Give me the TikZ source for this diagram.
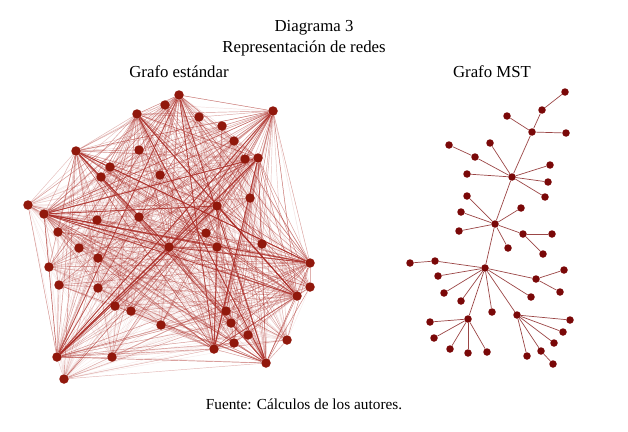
\documentclass[tikz,border=0pt]{standalone}
\usepackage{fontspec}
\setmainfont{Liberation Serif}
\usetikzlibrary{backgrounds}
\definecolor{dotred}{RGB}{145,24,12}
\definecolor{linkred}{RGB}{170,42,36}
\definecolor{treered}{RGB}{122,8,8}

\begin{document}
\begin{tikzpicture}[x=1pt, y=-1pt,
		node_style/.style={circle,fill=dotred,inner sep=0pt,minimum size=9.5pt},
		tree_style/.style={circle,fill=treered,inner sep=0pt,minimum size=7.5pt},
		edge_style/.style={draw=linkred,line width=0.45pt},
		tree_edge/.style={draw=treered!75!white,line width=0.7pt},
		text_style/.style={font=\fontsize{16.8}{19}\selectfont,inner sep=0pt},
		note_style/.style={font=\fontsize{15.3}{18}\selectfont,inner sep=0pt}]

		\useasboundingbox (0,0) rectangle (628,431);

		% titles
		\node[text_style] (title) at (314,28) {Diagrama 3};
		\node[text_style] (subtitle) at (304,48) {Representación de redes};
		\node[text_style] (leftname) at (179,72) {Grafo estándar};
		\node[text_style] (rightname) at (492,72) {Grafo MST};
		\node[note_style] (source) at (304,404) {Fuente: Cálculos de los autores.};

		% grafo estandar
		\node[node_style] (n1) at (179,95) {};
		\node[node_style] (n2) at (165,105) {};
		\node[node_style] (n3) at (137,114) {};
		\node[node_style] (n4) at (273,111) {};
		\node[node_style] (n5) at (199,117) {};
		\node[node_style] (n6) at (222,126) {};
		\node[node_style] (n7) at (234,141) {};
		\node[node_style] (n8) at (76,151) {};
		\node[node_style] (n9) at (139,150) {};
		\node[node_style] (n10) at (245,159) {};
		\node[node_style] (n11) at (258,158) {};
		\node[node_style] (n12) at (110,167) {};
		\node[node_style] (n13) at (101,177) {};
		\node[node_style] (n14) at (160,175) {};
		\node[node_style] (n15) at (250,198) {};
		\node[node_style] (n16) at (217,206) {};
		\node[node_style] (n17) at (28,205) {};
		\node[node_style] (n18) at (44,214) {};
		\node[node_style] (n19) at (97,220) {};
		\node[node_style] (n20) at (139,217) {};
		\node[node_style] (n21) at (58,232) {};
		\node[node_style] (n22) at (206,233) {};
		\node[node_style] (n23) at (169,247) {};
		\node[node_style] (n24) at (217,247) {};
		\node[node_style] (n25) at (262,244) {};
		\node[node_style] (n26) at (79,248) {};
		\node[node_style] (n27) at (98,258) {};
		\node[node_style] (n28) at (49,267) {};
		\node[node_style] (n29) at (310,263) {};
		\node[node_style] (n30) at (59,285) {};
		\node[node_style] (n31) at (98,288) {};
		\node[node_style] (n32) at (310,287) {};
		\node[node_style] (n33) at (297,296) {};
		\node[node_style] (n34) at (115,306) {};
		\node[node_style] (n35) at (131,311) {};
		\node[node_style] (n36) at (226,311) {};
		\node[node_style] (n37) at (161,325) {};
		\node[node_style] (n38) at (231,323) {};
		\node[node_style] (n39) at (248,335) {};
		\node[node_style] (n40) at (287,340) {};
		\node[node_style] (n41) at (234,343) {};
		\node[node_style] (n42) at (214,349) {};
		\node[node_style] (n43) at (57,357) {};
		\node[node_style] (n44) at (112,357) {};
		\node[node_style] (n45) at (266,363) {};
		\node[node_style] (n46) at (64,379) {};

		\begin{pgfonlayer}{background}
		\pgfmathsetseed{11}
		% all links, faint
		\foreach \i in {1,...,45}{
			\pgfmathtruncatemacro\k{\i+1}
			\foreach \j in {\k,...,46}
				\draw[edge_style,opacity=0.09]  (n\i) -- (n\j);
		}
		% links of the central nodes
		\foreach \h in {1,3,4,8,11,16,18,23,29,33,42,43,45}{
			\foreach \j in {1,...,46}{
				\ifnum\h=\j\else
					\pgfmathsetmacro\op{0.06+0.48*rnd}
					\draw[edge_style,opacity=\op]  (n\h) -- (n\j);
				\fi
			}
		}
		% strongest links
		\foreach \a/\b in {18/23,18/16,18/24,18/29,43/16,43/1,43/23,24/42,8/29,3/33,1/42,
				4/43,11/18,16/33,23/29,8/23,3/45,4/23,1/45,18/33,11/42,43/11}
			\draw[edge_style,line width=0.9pt,opacity=0.75]  (n\a) -- (n\b);
		\end{pgfonlayer}

		% grafo MST
		\node[tree_style] (ta) at (565,92) {};
		\node[tree_style] (tb) at (542,110) {};
		\node[tree_style] (tc) at (532,132) {};
		\node[tree_style] (td) at (507,116) {};
		\node[tree_style] (te) at (566,133) {};
		\node[tree_style] (tf) at (449,145) {};
		\node[tree_style] (tg) at (490,143) {};
		\node[tree_style] (th) at (475,157) {};
		\node[tree_style] (ti) at (512,177) {};
		\node[tree_style] (tj) at (550,165) {};
		\node[tree_style] (tk) at (467,174) {};
		\node[tree_style] (tl) at (548,182) {};
		\node[tree_style] (tm) at (545,197) {};
		\node[tree_style] (tn) at (467,196) {};
		\node[tree_style] (to) at (521,208) {};
		\node[tree_style] (tp) at (461,212) {};
		\node[tree_style] (tq) at (495,224) {};
		\node[tree_style] (tr) at (459,231) {};
		\node[tree_style] (ts) at (523,234) {};
		\node[tree_style] (tt) at (552,234) {};
		\node[tree_style] (tu) at (508,248) {};
		\node[tree_style] (tv) at (543,254) {};
		\node[tree_style] (tw) at (410,263) {};
		\node[tree_style] (tx) at (435,261) {};
		\node[tree_style] (ty) at (485,268) {};
		\node[tree_style] (tz) at (438,276) {};
		\node[tree_style] (tA) at (564,270) {};
		\node[tree_style] (tB) at (536,279) {};
		\node[tree_style] (tC) at (444,293) {};
		\node[tree_style] (tD) at (560,292) {};
		\node[tree_style] (tE) at (461,301) {};
		\node[tree_style] (tF) at (531,297) {};
		\node[tree_style] (tG) at (492,312) {};
		\node[tree_style] (tH) at (468,319) {};
		\node[tree_style] (tI) at (517,315) {};
		\node[tree_style] (tJ) at (570,320) {};
		\node[tree_style] (tK) at (430,322) {};
		\node[tree_style] (tL) at (563,332) {};
		\node[tree_style] (tM) at (434,338) {};
		\node[tree_style] (tN) at (554,343) {};
		\node[tree_style] (tO) at (450,349) {};
		\node[tree_style] (tP) at (468,353) {};
		\node[tree_style] (tQ) at (487,352) {};
		\node[tree_style] (tR) at (527,356) {};
		\node[tree_style] (tS) at (541,351) {};
		\node[tree_style] (tT) at (553,364) {};

		\begin{pgfonlayer}{background}
		\foreach \a/\b in {ta/tb,tb/tc,tc/td,tc/te,tc/ti,ti/tg,ti/th,th/tf,ti/tk,ti/tj,
				ti/tl,ti/tm,ti/tq,tq/tn,tq/tp,tq/tr,tq/to,tq/ts,ts/tt,ts/tv,tq/tu,
				tq/ty,ty/tx,tx/tw,ty/tz,ty/tC,ty/tE,ty/tG,ty/tF,ty/tB,tB/tA,tB/tD,
				ty/tH,ty/tI,tH/tK,tH/tM,tH/tO,tH/tP,tH/tQ,tI/tJ,tI/tL,tI/tN,tI/tS,
				tS/tT,tI/tR}
			\draw[tree_edge]  (\a) -- (\b);
		\end{pgfonlayer}

	\end{tikzpicture}
\end{document}
